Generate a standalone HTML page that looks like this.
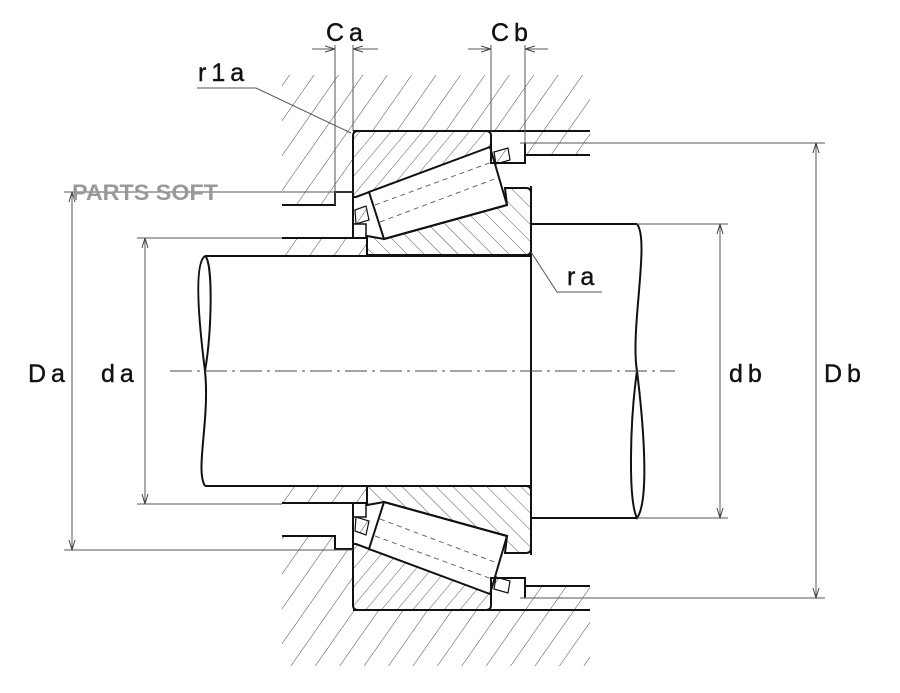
<!DOCTYPE html>
<html><head><meta charset="utf-8"><style>
html,body{margin:0;padding:0;background:#fff;width:900px;height:693px;overflow:hidden}
svg{display:block}
.t{font-family:"Liberation Sans",sans-serif;font-size:25px;fill:#111;letter-spacing:5px;stroke:#111;stroke-width:0.4}
</style></head><body>
<svg width="900" height="693" viewBox="0 0 900 693" xmlns="http://www.w3.org/2000/svg">
<defs>
<pattern id="h1" patternUnits="userSpaceOnUse" width="20" height="20" patternTransform="rotate(35)">
<line x1="0" y1="0" x2="0" y2="20" stroke="#333" stroke-width="0.9"/></pattern>
<pattern id="h2" patternUnits="userSpaceOnUse" width="12" height="12" patternTransform="rotate(40)">
<line x1="0" y1="0" x2="0" y2="12" stroke="#333" stroke-width="0.8"/></pattern>
<pattern id="h3" patternUnits="userSpaceOnUse" width="12" height="12" patternTransform="rotate(-45)">
<line x1="0" y1="0" x2="0" y2="12" stroke="#333" stroke-width="0.8"/></pattern>
<marker id="ar" viewBox="0 0 10 10" refX="10" refY="5" markerWidth="10" markerHeight="10" orient="auto-start-reverse" markerUnits="userSpaceOnUse">
<path d="M0,2 L10,5 L0,8" fill="none" stroke="#444" stroke-width="1"/></marker>
<path id="housing" d="M282,75 L590,75 L590,131 L353,131 L353,192 L335,192 L335,205 L282,205 Z"/>
<path id="spacer" d="M520,131 L590,131 L590,155 L525,155 Z"/>
<path id="cup" d="M358,131 L486,131 Q491,131 491,136 L491,147 L356,197 L353,197 L353,136 Q353,131 358,131 Z"/>
<path id="cone" d="M367,236 L384,239 L507,205 L505,188 L526,188 Q531,188 531,193 L531,250 Q531,255 526,255 L367,255 Z"/>
<path id="shring" d="M282,238 L367,238 L367,255 L282,255 Z"/>
<path id="cage1" d="M355,210 L366,206 L369,220 L356,224 Z"/>
<path id="cage2" d="M494,152 L508,148 L510,160 L496,164 Z"/>
<clipPath id="cH"><use href="#housing"/><use href="#housing" transform="matrix(1 0 0 -1 0 741)"/></clipPath>
<clipPath id="cS"><use href="#spacer"/><use href="#spacer" transform="matrix(1 0 0 -1 0 741)"/><use href="#shring"/><use href="#shring" transform="matrix(1 0 0 -1 0 741)"/><use href="#cage1"/><use href="#cage1" transform="matrix(1 0 0 -1 0 741)"/><use href="#cage2"/><use href="#cage2" transform="matrix(1 0 0 -1 0 741)"/></clipPath>
<clipPath id="cC"><use href="#cup"/><use href="#cup" transform="matrix(1 0 0 -1 0 741)"/></clipPath>
<clipPath id="cN"><use href="#cone"/><use href="#cone" transform="matrix(1 0 0 -1 0 741)"/></clipPath>
<g id="half" fill="none" stroke="#111">
<path d="M282,205 L335,205 L335,192 L353,192" stroke-width="2"/>
<path d="M353,131 L590,131" stroke-width="2"/>
<path d="M525,155 L590,155 M525,143 L525,155" stroke-width="2"/>
<use href="#cup" stroke-width="2"/>
<path d="M369,192 L490,147 L507,205 L384,239 Z" stroke-width="2" fill="#fff"/>
<path d="M375,205 L492,162 M380,222 L497,178" stroke="#666" stroke-width="1" stroke-dasharray="5,4"/>
<path d="M384,239 L507,205 L505,188 L526,188 Q531,188 531,193 L531,250 Q531,255 526,255 L367,255 L367,236 Z" stroke-width="2"/>
<path d="M353,197 L353,238 L367,238" stroke-width="2"/>
<path d="M353,224 L366,224 L366,238" stroke-width="1.5"/>
<use href="#cage1" stroke-width="1.2"/><use href="#cage2" stroke-width="1.2"/>
<path d="M491,147 L491,163 L525,163 L525,143" stroke-width="2"/>
<path d="M282,238 L353,238" stroke-width="2"/>
</g>
</defs>
<rect width="900" height="693" fill="#fff"/>
<rect width="900" height="693" fill="url(#h1)" clip-path="url(#cH)"/>
<rect width="900" height="693" fill="url(#h1)" clip-path="url(#cS)"/>
<rect width="900" height="693" fill="url(#h2)" clip-path="url(#cC)"/>
<rect width="900" height="693" fill="url(#h3)" clip-path="url(#cN)"/>
<use href="#half"/>
<use href="#half" transform="matrix(1 0 0 -1 0 741)"/>
<g fill="none" stroke="#111" stroke-width="2">
<path d="M205,256 L531,256 M205,486 L531,486 M531,224 L637,224 M531,518 L637,518 M531,186 L531,555"/>
<path d="M205,256 C196,262 196,300 205,371 C210,420 195,470 205,486"/>
<path d="M205,256 C213,262 212,330 205,371"/>
<path d="M637,224 C650,240 630,330 637,371 C643,420 650,500 637,518 C628,500 630,420 637,371"/>
</g>
<line x1="170" y1="371" x2="675" y2="371" stroke="#444" stroke-width="1" stroke-dasharray="22,5,3,5"/>
<g stroke="#555" stroke-width="1" fill="none">
<path d="M64,192 L353,192 M64,550 L353,550 M137,238 L282,238 M137,504 L282,504 M637,224 L728,224 M637,518 L728,518 M520,143 L825,143 M520,598 L825,598"/>
<path d="M335,45 L335,205 M353,45 L353,131 M491,45 L491,131 M525,45 L525,143"/>
<path d="M197,88 L256,88 L351,133"/>
<path d="M531,252 L557,292 L602,292"/>
<line x1="72" y1="192" x2="72" y2="550" marker-start="url(#ar)" marker-end="url(#ar)"/>
<line x1="145" y1="238" x2="145" y2="504" marker-start="url(#ar)" marker-end="url(#ar)"/>
<line x1="720" y1="224" x2="720" y2="518" marker-start="url(#ar)" marker-end="url(#ar)"/>
<line x1="816" y1="143" x2="816" y2="598" marker-start="url(#ar)" marker-end="url(#ar)"/>
<line x1="312" y1="49" x2="335" y2="49" marker-end="url(#ar)"/>
<line x1="378" y1="49" x2="353" y2="49" marker-end="url(#ar)"/>
<line x1="468" y1="49" x2="491" y2="49" marker-end="url(#ar)"/>
<line x1="548" y1="49" x2="525" y2="49" marker-end="url(#ar)"/>
</g>
<text x="72" y="200" font-family="Liberation Sans,sans-serif" font-weight="bold" font-size="22" fill="#999" textLength="146" lengthAdjust="spacingAndGlyphs">PARTS SOFT</text>
<text class="t" x="326" y="41">Ca</text>
<text class="t" x="491" y="41">Cb</text>
<text class="t" x="198" y="81">r1a</text>
<text class="t" x="567" y="285">ra</text>
<text class="t" x="28" y="382">Da</text>
<text class="t" x="101" y="382">da</text>
<text class="t" x="729" y="382">db</text>
<text class="t" x="824" y="382">Db</text>
</svg>
</body></html>
